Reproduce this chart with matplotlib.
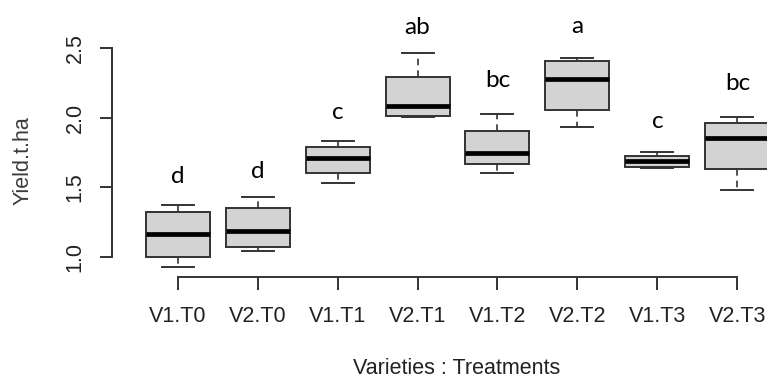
import matplotlib
matplotlib.use("Agg")
import matplotlib.pyplot as plt

groups = ["V1.T0", "V2.T0", "V1.T1", "V2.T1", "V1.T2", "V2.T2", "V1.T3", "V2.T3"]
whislo = [0.93, 1.045, 1.53, 2.005, 1.60, 1.935, 1.64, 1.48]
q1 = [1.00, 1.075, 1.60, 2.012, 1.668, 2.055, 1.648, 1.63]
med = [1.165, 1.187, 1.708, 2.082, 1.747, 2.28, 1.687, 1.856]
q3 = [1.323, 1.352, 1.787, 2.29, 1.905, 2.41, 1.727, 1.964]
whishi = [1.373, 1.43, 1.835, 2.462, 2.03, 2.43, 1.756, 2.005]
letters = ["d", "d", "c", "ab", "bc", "a", "c", "bc"]
letter_y = [1.531, 1.567, 1.991, 2.601, 2.220, 2.608, 1.926, 2.199]

W, H = 767, 380
fig = plt.figure(figsize=(W / 100, H / 100), dpi=100)
ax = fig.add_axes([112 / W, (H - 277) / H, 691 / W, 232 / H])

stats = []
for i in range(len(groups)):
    stats.append(dict(label=groups[i], whislo=whislo[i], q1=q1[i], med=med[i],
                      q3=q3[i], whishi=whishi[i], fliers=[]))

edge = "#333333"
ax.bxp(stats, positions=range(1, 9), widths=0.8, patch_artist=True,
       showfliers=False, capwidths=0.4,
       boxprops=dict(facecolor="#d3d3d3", edgecolor=edge, linewidth=1.4),
       medianprops=dict(color="black", linewidth=3.4, solid_capstyle="butt"),
       whiskerprops=dict(color=edge, linewidth=1.2, linestyle=(0, (4, 3))),
       capprops=dict(color=edge, linewidth=1.4))

for i, (lab, yv) in enumerate(zip(letters, letter_y)):
    ax.text(i + 1, yv, lab, ha="center", va="baseline", fontsize=17.5,
            family=["Lato", "DejaVu Sans"], color="black", clip_on=False)

ax.set_xlim(0.18, 8.82)
ax.set_ylim(0.856, 2.522)
ax.set_yticks([1.0, 1.5, 2.0, 2.5])
ax.set_yticklabels(["1.0", "1.5", "2.0", "2.5"], rotation=90, va="center")
ax.set_xticks(range(1, 9))
ax.set_xticklabels(groups)

for s in ["top", "right"]:
    ax.spines[s].set_visible(False)
ax.spines["left"].set_bounds(1.0, 2.5)
ax.spines["bottom"].set_bounds(1, 8)
for s in ["left", "bottom"]:
    ax.spines[s].set_color(edge)
    ax.spines[s].set_linewidth(1.4)

txt = "#222222"
ax.tick_params(axis="both", direction="out", length=9, width=1.4, color=edge,
               labelsize=15.5, labelcolor=txt)
ax.tick_params(axis="y", pad=10)
ax.tick_params(axis="x", pad=12)
for t in ax.get_xticklabels() + ax.get_yticklabels():
    t.set_family("Liberation Sans")

fig.text(23 / W, (H - 161) / H, "Yield.t.ha", rotation=90, ha="center",
         va="center", fontsize=15.5, family="Liberation Sans", color="#3a3a3a")
fig.text(457 / W, (H - 374) / H, "Varieties : Treatments", ha="center",
         va="baseline", fontsize=15.5, family="Liberation Sans", color=txt)

fig.savefig("out.png", dpi=100)
